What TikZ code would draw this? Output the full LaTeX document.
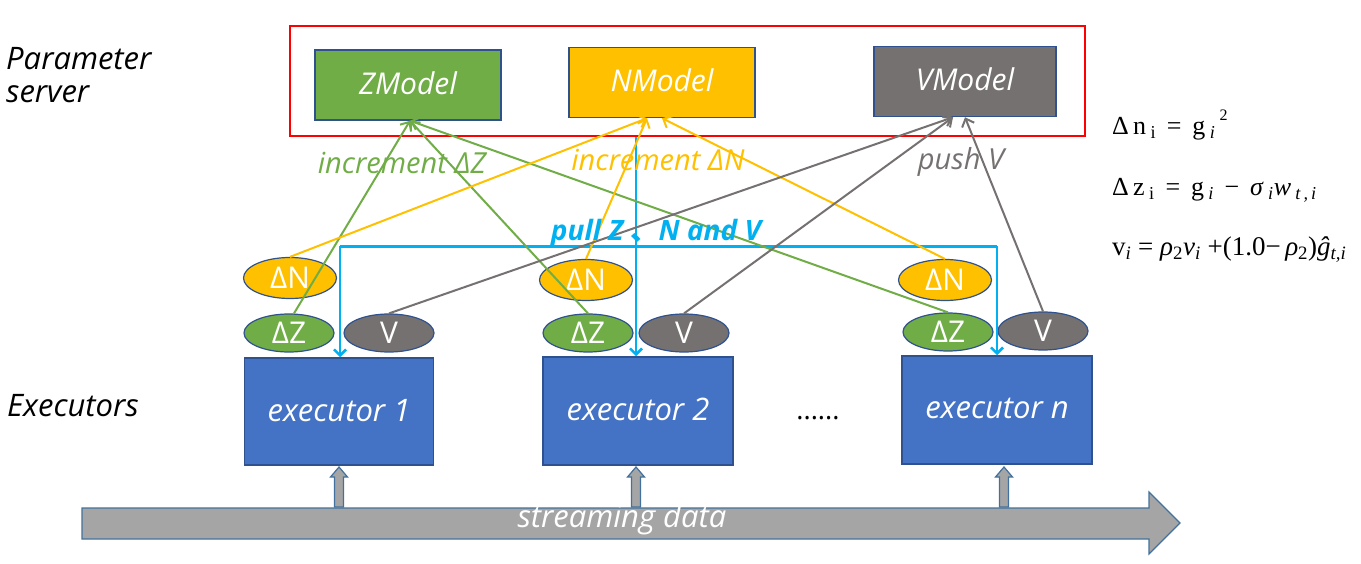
\documentclass[tikz,border=0pt]{standalone}
\usepackage{fontspec}
\setmainfont{Open Sans}
\newfontfamily\formfont{Liberation Serif}
\newfontfamily\cjkfont{Noto Sans CJK SC}
\usetikzlibrary{shapes.geometric,arrows.meta,calc}
\definecolor{cgreen}{HTML}{70AD47}
\definecolor{cyellow}{HTML}{FFC000}
\definecolor{cgray}{HTML}{767171}
\definecolor{cblue}{HTML}{4472C4}
\definecolor{cedge}{HTML}{2F528F}
\definecolor{cpull}{HTML}{00B0F0}
\definecolor{cbar}{HTML}{A5A5A5}
\definecolor{cbaredge}{HTML}{41719C}
\tikzset{
  hand/.style={font=\fontsize{29}{34}\selectfont\itshape},
  model/.style={draw=cedge, line width=1.5pt, minimum width=186pt, minimum height=70pt, inner sep=0pt, text=white, font=\fontsize{30}{34}\selectfont\itshape},
  exec/.style={draw=cedge, line width=1.5pt, minimum width=189pt, minimum height=107pt, inner sep=0pt, fill=cblue, text=white, font=\fontsize{31}{34}\selectfont\itshape},
  blob/.style={ellipse, draw=cedge, line width=1.2pt, minimum width=90pt, minimum height=38pt, inner sep=0pt, text=white, font=\fontsize{30}{30}\selectfont},
  push/.style={line width=2pt, -{Straight Barb[length=7pt,width=13pt,line width=2pt]}},
  pull/.style={draw=cpull, line width=2.8pt},
  pullarrow/.style={pull, -{Straight Barb[length=6pt,width=12pt,line width=2.5pt]}},
  lbl/.style={hand, inner sep=0pt},
  upar/.style={fill=cbar, draw=cbaredge, line width=1.2pt},
  formula/.style={font=\formfont\fontsize{26}{28}\selectfont, anchor=west, inner sep=0pt}
}
\begin{document}
\begin{tikzpicture}[x=1pt,y=-1pt]
\useasboundingbox (0,0) rectangle (1361,564);

% parameter server
\node[draw=red, line width=2pt, minimum width=795pt, minimum height=110pt] (ps) at (687.5,81) {};
\node[model, fill=cgreen] (zm) at (408,85) {\raisebox{4pt}{ZModel}};
\node[model, fill=cyellow] (nm) at (662,82.5) {\raisebox{4pt}{NModel}};
\node[model, fill=cgray, minimum width=182pt] (vm) at (965,81.5) {\raisebox{4pt}{VModel}};

% side labels
\node[lbl, anchor=north west, align=left, text=black, font=\fontsize{31}{33}\selectfont\itshape] (lps) at (6,47) {Parameter\\server};
\node[lbl, anchor=west, text=black, font=\fontsize{31}{34}\selectfont\itshape] (lex) at (7,406) {Executors};

% executors
\node[exec] (ex1) at (339,411.5) {\raisebox{3pt}{executor 1}};
\node[exec, minimum width=190pt, minimum height=108pt] (ex2) at (638,411) {\raisebox{3pt}{executor 2}};
\node[exec, minimum width=190pt, minimum height=108pt] (exn) at (997,410) {\raisebox{3pt}{executor n}};
\node[font=\fontsize{27}{28}\selectfont, inner sep=0pt] (dots) at (818,418) {......};

% blobs
\node[blob, fill=cyellow, minimum width=93pt, minimum height=41pt] (dn1) at (290,278) {ΔN};
\node[blob, fill=cgreen] (dz1) at (289,333) {ΔZ};
\node[blob, fill=cgray] (v1) at (389,333) {V};
\node[blob, fill=cyellow, minimum width=93pt, minimum height=41pt] (dn2) at (586,280) {ΔN};
\node[blob, fill=cgreen] (dz2) at (588,333) {ΔZ};
\node[blob, fill=cgray] (v2) at (684,333) {V};
\node[blob, fill=cyellow, minimum width=93pt, minimum height=41pt] (dn3) at (945,280) {ΔN};
\node[blob, fill=cgreen] (dz3) at (948,332) {ΔZ};
\node[blob, fill=cgray] (v3) at (1043,331) {V};

% pull connectors
\coordinate (pl) at (340,246.5);
\coordinate (pr) at (997,246.5);
\draw[pull] (pl) -- (pr);
\draw[pullarrow] (pl) -- (pl |- ex1.north);
\draw[pullarrow] (pr) -- (pr |- exn.north);
\draw[pullarrow] (ps.south -| 636,0) -- (ex2.north -| 636,0);

% push connectors
\draw[push, cgreen] ($(dz1.north)+(5,0)$) -- ($(zm.south)+(2,0)$);
\draw[push, cgreen] (dz2.north) -- ($(zm.south)+(2,0)$);
\draw[push, cgreen] (dz3.north) -- ($(zm.south)+(2,0)$);
\draw[push, cyellow] (dn1.north) -- ($(nm.south)+(-15,0)$);
\draw[push, cyellow] (dn2.north) -- ($(nm.south)+(-15,0)$);
\draw[push, cyellow] (dn3.north) -- (nm.south);
\draw[push, cgray] (v1.north) -- ($(vm.south)+(-12,0)$);
\draw[push, cgray] (v2.north) -- ($(vm.south)+(-12,0)$);
\draw[push, cgray] (v3.north) -- (vm.south);

% labels
\node[lbl, text=cgreen] (lz) at (402,163) {increment ΔZ};
\node[lbl, text=cyellow] (ln) at (658,160) {increment ΔN};
\node[lbl, text=cgray] (lv) at (961,162) {push V};
\node[lbl, text=cpull, font=\fontsize{28}{30}\selectfont\itshape\bfseries] (lp) at (656,233) {pull Z {\cjkfont\upshape 、}N and V};

% streaming data
\draw[upar] (82,508) -- (1149,508) -- (1149,492) -- (1180,523) -- (1149,554) -- (1149,539) -- (82,539) -- cycle;
\node[lbl, text=white, font=\fontsize{31}{34}\selectfont\itshape] (sd) at (622,519) {streaming data};
\foreach \cx in {339,636,1004}{
  \draw[upar] (\cx-4.5,507) -- (\cx-4.5,477) -- (\cx-8.5,477) -- (\cx,467) -- (\cx+8.5,477) -- (\cx+4.5,477) -- (\cx+4.5,507) -- cycle;
}

% formulas
\node[formula] (f1) at (1112,125) {Δ\,n\,\textsubscript{i} \,=\, g\,\textsubscript{\itshape i}\,\raisebox{1.2ex}{\fontsize{16}{16}\selectfont 2}};
\node[formula] (f2) at (1112,190) {Δ\,z\,\textsubscript{i} \,=\, g\,\textsubscript{\itshape i} \,−\, \textit{σ}\,\textsubscript{\itshape i}\textit{w}\,\textsubscript{\itshape t\,,\,i}};
\node[formula, font=\formfont\fontsize{27}{30}\selectfont] (f3) at (1112,250) {v\textsubscript{\itshape i} = \textit{ρ}\textsubscript{2}\textit{v}\textsubscript{\itshape i} +(1.0−\,\textit{ρ}\textsubscript{2})\textit{ĝ}\textsubscript{\itshape t,i}};
\end{tikzpicture}
\end{document}
